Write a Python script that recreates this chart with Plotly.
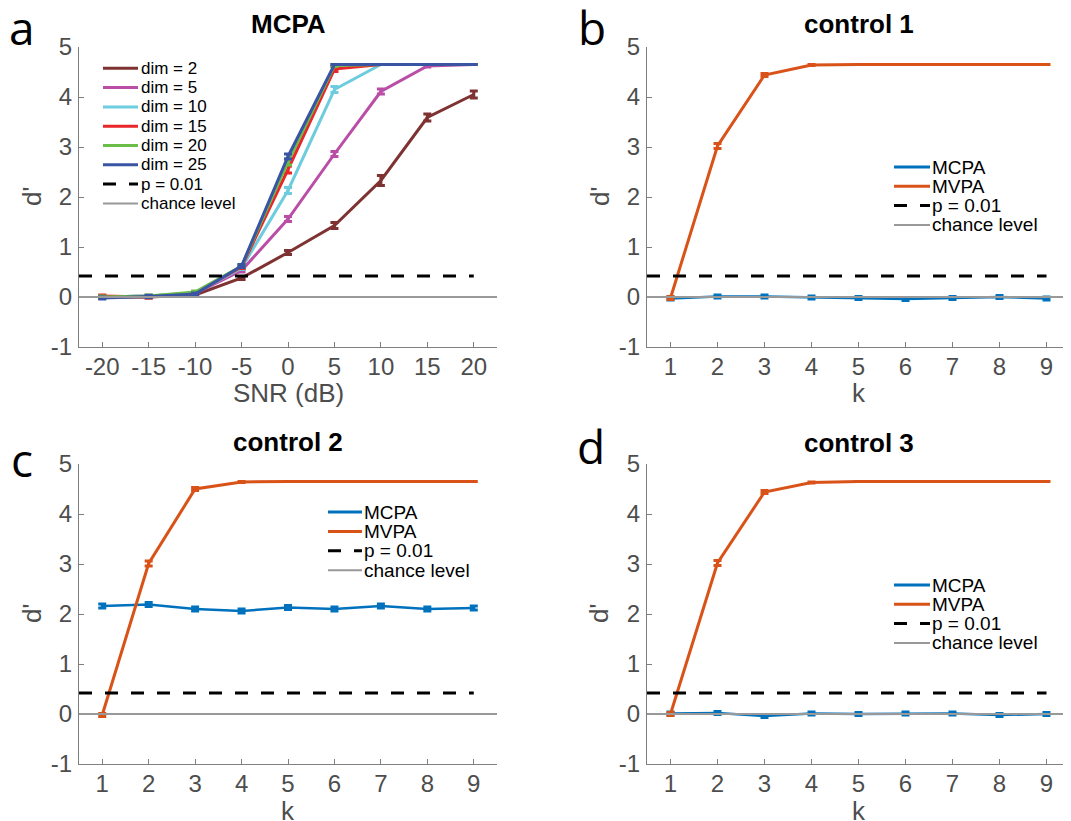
import plotly.graph_objects as go

# ---------------- data ----------------
snr_db = [-20, -15, -10, -5, 0, 5, 10, 15, 20]
dim_labels = ["dim = 2", "dim = 5", "dim = 10", "dim = 15", "dim = 20", "dim = 25"]
dim_colors = ["#7F3232", "#BA4EA7", "#6DCCDD", "#E8262B", "#6ABD46", "#3A54A4"]

dprime_dim2 = [0.00, 0.00, 0.04, 0.38, 0.89, 1.43, 2.33, 3.59, 4.05]
dprime_dim5 = [0.00, 0.02, 0.07, 0.53, 1.56, 2.86, 4.11, 4.62, 4.65]
dprime_dim10 = [0.00, 0.02, 0.08, 0.58, 2.13, 4.15, 4.65, 4.65, 4.65]
dprime_dim15 = [0.02, 0.00, 0.08, 0.60, 2.55, 4.56, 4.65, 4.65, 4.65]
dprime_dim20 = [0.00, 0.02, 0.10, 0.62, 2.70, 4.63, 4.65, 4.65, 4.65]
dprime_dim25 = [-0.02, 0.01, 0.06, 0.62, 2.81, 4.65, 4.65, 4.65, 4.65]

err_dim2 = [0.02, 0.02, 0.02, 0.03, 0.04, 0.06, 0.10, 0.07, 0.07]
err_dim5 = [0.02, 0.02, 0.02, 0.03, 0.05, 0.05, 0.05, 0.02, 0.00]
err_dim10 = [0.02, 0.02, 0.02, 0.03, 0.06, 0.06, 0.00, 0.00, 0.00]
err_dim15 = [0.02, 0.02, 0.02, 0.03, 0.07, 0.05, 0.00, 0.00, 0.00]
err_dim20 = [0.02, 0.02, 0.02, 0.03, 0.06, 0.02, 0.00, 0.00, 0.00]
err_dim25 = [0.02, 0.02, 0.02, 0.03, 0.05, 0.00, 0.00, 0.00, 0.00]

k_values = [1, 2, 3, 4, 5, 6, 7, 8, 9]
method_labels = ["MCPA", "MVPA"]
method_colors = ["#0072BD", "#D95319"]

c1_mcpa = [-0.03, 0.01, 0.01, -0.01, -0.02, -0.04, -0.02, 0.00, -0.03]
c1_mvpa = [-0.02, 3.02, 4.44, 4.64, 4.65, 4.65, 4.65, 4.65, 4.65]
c2_mcpa = [2.16, 2.19, 2.10, 2.06, 2.13, 2.10, 2.16, 2.10, 2.12]
c2_mvpa = [-0.02, 3.01, 4.50, 4.64, 4.65, 4.65, 4.65, 4.65, 4.65]
c3_mcpa = [0.01, 0.02, -0.04, 0.01, 0.00, 0.01, 0.01, -0.02, 0.00]
c3_mvpa = [0.00, 3.02, 4.44, 4.63, 4.65, 4.65, 4.65, 4.65, 4.65]

c1_mcpa_err = [0.03, 0.03, 0.03, 0.03, 0.03, 0.03, 0.03, 0.03, 0.03]
c1_mvpa_err = [0.03, 0.05, 0.03, 0.01, 0.00, 0.00, 0.00, 0.00, 0.00]
c2_mcpa_err = [0.04, 0.04, 0.04, 0.04, 0.04, 0.04, 0.04, 0.04, 0.04]
c2_mvpa_err = [0.03, 0.05, 0.03, 0.01, 0.00, 0.00, 0.00, 0.00, 0.00]
c3_mcpa_err = [0.03, 0.03, 0.03, 0.03, 0.03, 0.03, 0.03, 0.03, 0.03]
c3_mvpa_err = [0.03, 0.05, 0.03, 0.01, 0.00, 0.00, 0.00, 0.00, 0.00]

p_threshold = 0.42
chance_level = 0.0
extra_labels = ["p = 0.01", "chance level"]

panel_titles = ["MCPA", "control 1", "control 2", "control 3"]
panel_letters = ["a", "b", "c", "d"]
x_titles = ["SNR (dB)", "k", "k", "k"]
y_title = "d'"
snr_ticks = [-20, -15, -10, -5, 0, 5, 10, 15, 20]
snr_ticktext = ["-20", "-15", "-10", "-5", "0", "5", "10", "15", "20"]
k_ticks = [1, 2, 3, 4, 5, 6, 7, 8, 9]
k_ticktext = ["1", "2", "3", "4", "5", "6", "7", "8", "9"]
y_ticks = [-1, 0, 1, 2, 3, 4, 5]
y_ticktext = ["-1", "0", "1", "2", "3", "4", "5"]

# ---------------- layout geometry (target pixels in the 1071x821 view) ----------------
OFF = 8          # page body margin
W, H = 1071 - OFF, 821 - OFF

boxes = [(79, 497, 47, 347), (647, 1070, 47, 347),
         (79, 497, 464, 764), (647, 1070, 464, 764)]
x_ranges = [[-22.5, 22.5], [0.5, 9.5], [0.5, 9.5], [0.5, 9.5]]


def px(x):
    return (x - OFF) / W


def py(y):
    return 1 - (y - OFF) / H


FONT = "Liberation Sans, Arial, Helvetica, sans-serif"
TICK_FONT = dict(family=FONT, size=24, color="#4D4D4D")
AX_COLOR = "#7F7F7F"

fig = go.Figure()


def add_series(idx, x, y, err, color, width=3):
    ax = "" if idx == 0 else str(idx + 1)
    fig.add_trace(go.Scatter(
        x=x, y=y, mode="lines", xaxis="x" + ax, yaxis="y" + ax,
        line=dict(color=color, width=width), showlegend=False,
        error_y=dict(type="data", array=err, color=color, thickness=3, width=4),
        hoverinfo="x+y"))


dim_series = [dprime_dim2, dprime_dim5, dprime_dim10, dprime_dim15, dprime_dim20, dprime_dim25]
dim_errs = [err_dim2, err_dim5, err_dim10, err_dim15, err_dim20, err_dim25]
for ys, es, col in zip(dim_series, dim_errs, dim_colors):
    add_series(0, snr_db, ys, es, col)

ctrl = [((c1_mcpa, c1_mcpa_err), (c1_mvpa, c1_mvpa_err)),
        ((c2_mcpa, c2_mcpa_err), (c2_mvpa, c2_mvpa_err)),
        ((c3_mcpa, c3_mcpa_err), (c3_mvpa, c3_mvpa_err))]
for i, (mc, mv) in enumerate(ctrl):
    add_series(i + 1, k_values, mc[0], mc[1], method_colors[0], width=2.5)
    add_series(i + 1, k_values, mv[0], mv[1], method_colors[1], width=3)

layout = dict(width=W, height=H,
              margin=dict(l=0, r=0, t=0, b=0, autoexpand=False),
              paper_bgcolor="white", plot_bgcolor="white", showlegend=False)

for i, (l, r, t, b) in enumerate(boxes):
    ax = "" if i == 0 else str(i + 1)
    layout["xaxis" + ax] = dict(
        domain=[max(0, px(l)), min(1, px(r))], anchor="y" + ax, range=x_ranges[i],
        tickvals=snr_ticks if i == 0 else k_ticks,
        ticktext=snr_ticktext if i == 0 else k_ticktext,
        showline=True, linecolor=AX_COLOR, linewidth=1.2, mirror=False,
        ticks="inside", ticklen=5, tickcolor=AX_COLOR, tickwidth=1.2,
        showgrid=False, zeroline=False, tickfont=TICK_FONT, ticklabelstandoff=-2)
    layout["yaxis" + ax] = dict(
        domain=[py(b), py(t)], anchor="x" + ax, range=[-1, 5],
        tickvals=y_ticks, ticktext=y_ticktext,
        showline=True, linecolor=AX_COLOR, linewidth=1.2, mirror=False,
        ticks="inside", ticklen=5, tickcolor=AX_COLOR, tickwidth=1.2,
        showgrid=False, zeroline=False, tickfont=TICK_FONT, ticklabelstandoff=1)

fig.update_layout(**layout)

annotations = []
shapes = []

for i in range(4):
    ax = "" if i == 0 else str(i + 1)
    xs = snr_db if i == 0 else k_values
    shapes.append(dict(type="line", xref="x" + ax, yref="y" + ax,
                       x0=x_ranges[i][0], x1=max(xs), y0=p_threshold, y1=p_threshold,
                       line=dict(color="black", width=3, dash="13px,13px")))
    shapes.append(dict(type="line", xref="x" + ax + " domain", yref="y" + ax,
                       x0=0, x1=1, y0=chance_level, y1=chance_level,
                       line=dict(color="#999999", width=2)))

title_y = [24, 24, 442, 443]
letter_pos = [(22, 27), (592, 27), (22, 459), (591, 446)]
xtitle_y = [393, 393, 811, 811]
ytitle_x = [32, 600, 32, 599]
for i, (l, r, t, b) in enumerate(boxes):
    cx = (l + r) / 2
    annotations.append(dict(text="<b>%s</b>" % panel_titles[i], x=px(cx), y=py(title_y[i]),
                            xref="paper", yref="paper", xanchor="center", yanchor="middle",
                            showarrow=False, font=dict(family=FONT, size=26, color="black")))
    annotations.append(dict(text=panel_letters[i], x=px(letter_pos[i][0]), y=py(letter_pos[i][1]),
                            xref="paper", yref="paper", xanchor="center", yanchor="middle",
                            showarrow=False,
                            font=dict(family="Open Sans, sans-serif", size=46, color="black")))
    annotations.append(dict(text=x_titles[i], x=px(cx), y=py(xtitle_y[i]),
                            xref="paper", yref="paper", xanchor="center", yanchor="middle",
                            showarrow=False, font=dict(family=FONT, size=26, color="#4D4D4D")))
    annotations.append(dict(text=y_title, x=px(ytitle_x[i]), y=py((t + b) / 2),
                            xref="paper", yref="paper", xanchor="center", yanchor="middle",
                            textangle=-90, showarrow=False,
                            font=dict(family=FONT, size=26, color="#4D4D4D")))


def legend(x0, x1, xt, y0, dy, labels, colors, styles, fsize):
    for j, (lab, col, sty) in enumerate(zip(labels, colors, styles)):
        yy = y0 + j * dy
        if sty == "dash":
            line = dict(color=col, width=3, dash="13px,13px")
        elif sty == "thin":
            line = dict(color=col, width=2)
        else:
            line = dict(color=col, width=3)
        shapes.append(dict(type="line", xref="paper", yref="paper",
                           x0=px(x0), x1=px(x1), y0=py(yy), y1=py(yy), line=line))
        annotations.append(dict(text=lab, x=px(xt), y=py(yy), xref="paper", yref="paper",
                                xanchor="left", yanchor="middle", showarrow=False,
                                font=dict(family=FONT, size=fsize, color="black")))


legend(103, 138, 139, 68.3, 19.3, dim_labels + extra_labels,
       dim_colors + ["black", "#999999"], ["solid"] * 6 + ["dash", "thin"], 17)
ctrl_labels = method_labels + extra_labels
ctrl_colors = method_colors + ["black", "#999999"]
ctrl_styles = ["solid", "solid", "dash", "thin"]
legend(894, 930, 930, 167, 19.3, ctrl_labels, ctrl_colors, ctrl_styles, 19)
legend(328, 362, 362, 512, 19.4, ctrl_labels, ctrl_colors, ctrl_styles, 19)
legend(894, 930, 930, 585, 19.3, ctrl_labels, ctrl_colors, ctrl_styles, 19)

fig.update_layout(shapes=shapes, annotations=annotations)
fig.write_html("out.html")
